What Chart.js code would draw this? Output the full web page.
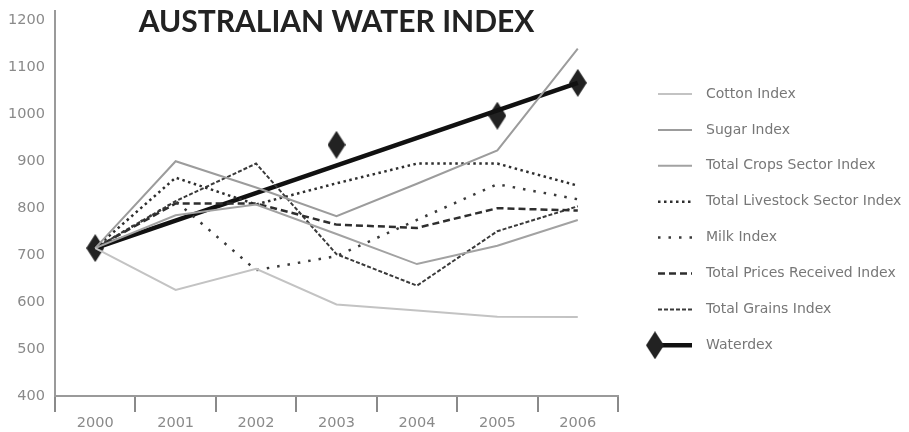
<!DOCTYPE html>
<html>
<head>
<meta charset="utf-8">
<script src="https://cdn.jsdelivr.net/npm/chart.js@4.4.0/dist/chart.umd.min.js"></script>
<style>
    html, body { margin: 0; padding: 0; background: #fff; }
    #wrap { position: relative; width: 909px; height: 432px; }
</style>
</head>
<body>
<div id="wrap"><canvas id="chart" width="909" height="432"></canvas></div>
<script>
// Values
const years = ['2000', '2001', '2002', '2003', '2004', '2005', '2006'];
const cottonIndex = [715, 626, 671, 595, 582, 569, 568];
const sugarIndex = [715, 900, 844, 783, 852, 923, 1140];
const cropsIndex = [715, 785, 808, 745, 681, 720, 775];
const livestockIndex = [715, 865, 808, 853, 895, 895, 848];
const milkIndex = [715, 815, 668, 698, 775, 851, 819];
const pricesIndex = [715, 810, 810, 765, 758, 800, 795];
const grainsIndex = [715, 815, 895, 702, 635, 751, 804];
const waterdexPoints = [715, null, null, 935, null, 997, 1067];
const waterdexTrend = [715, null, null, null, null, null, 1067];
const yTicks = [400, 500, 600, 700, 800, 900, 1000, 1100, 1200];

const FONT = '"DejaVu Sans", sans-serif';
const TITLE_FONT = 'Lato, "Open Sans", sans-serif';

// Tall diamond marker
function makeDiamond(w, h, color) {
    const c = document.createElement('canvas');
    c.width = w;
    c.height = h;
    const g = c.getContext('2d');
    g.fillStyle = color;
    g.beginPath();
    g.moveTo(w / 2, 0);
    g.lineTo(w, h / 2);
    g.lineTo(w / 2, h);
    g.lineTo(0, h / 2);
    g.closePath();
    g.fill();
    return c;
}
const diamond = makeDiamond(18, 28, '#222');

function series(label, data, color, width, dash) {
    return {
        label: label,
        data: data,
        borderColor: color,
        backgroundColor: color,
        borderWidth: width,
        borderDash: dash,
        pointRadius: 0,
        pointHoverRadius: 0,
        tension: 0,
        fill: false
    };
}

const datasets = [
    series('Cotton Index', cottonIndex, '#c3c3c3', 2, []),
    series('Sugar Index', sugarIndex, '#9c9c9c', 2, []),
    series('Total Crops Sector Index', cropsIndex, '#a2a2a2', 2, []),
    series('Total Livestock Sector Index', livestockIndex, '#2e2e2e', 2.5, [2.5, 3.5]),
    series('Milk Index', milkIndex, '#3a3a3a', 2.5, [2.5, 8]),
    series('Total Prices Received Index', pricesIndex, '#2e2e2e', 2.5, [7, 4]),
    series('Total Grains Index', grainsIndex, '#3a3a3a', 2, [4, 2]),
    Object.assign(series('Waterdex', waterdexTrend, '#111', 4.5, []), { spanGaps: true }),
    {
        label: 'Waterdex points',
        data: waterdexPoints,
        showLine: false,
        pointStyle: diamond,
        pointRadius: 10,
        pointHoverRadius: 10
    }
];

// Title and the side legend are drawn by hand
const decorPlugin = {
    id: 'decor',
    afterDraw(chart) {
        const ctx = chart.ctx;
        const area = chart.chartArea;
        ctx.save();

        ctx.fillStyle = '#222';
        ctx.font = 'bold 30px ' + TITLE_FONT;
        ctx.textAlign = 'center';
        ctx.textBaseline = 'middle';
        ctx.fillText('AUSTRALIAN WATER INDEX', (area.left + area.right) / 2, 22);

        const top = 94;
        const step = 35.9;
        for (let i = 0; i < 8; i++) {
            const ds = chart.data.datasets[i];
            const y = top + i * step;
            ctx.strokeStyle = ds.borderColor;
            ctx.lineWidth = ds.borderWidth;
            ctx.setLineDash(ds.borderDash || []);
            ctx.beginPath();
            ctx.moveTo(i === 7 ? 656 : 658, y);
            ctx.lineTo(692, y);
            ctx.stroke();
            if (i === 7) {
                ctx.drawImage(diamond, 655 - 9, y - 14);
            }
            ctx.setLineDash([]);
            ctx.fillStyle = '#777';
            ctx.font = '14px ' + FONT;
            ctx.textAlign = 'left';
            ctx.fillText(ds.label, 706, y);
        }
        ctx.restore();
    }
};

new Chart(document.getElementById('chart'), {
    type: 'line',
    data: { labels: years, datasets: datasets },
    options: {
        responsive: false,
        animation: false,
        events: [],
        layout: { padding: { top: 8.5, right: 291, left: 0, bottom: 0 } },
        plugins: {
            legend: { display: false },
            tooltip: { enabled: false }
        },
        scales: {
            x: {
                offset: true,
                afterFit: scale => { scale.height = 36; },
                grid: {
                    display: true,
                    offset: true,
                    drawOnChartArea: false,
                    drawTicks: true,
                    tickLength: 16,
                    color: '#8a8a8a',
                    lineWidth: 2
                },
                border: { display: true, color: '#9a9a9a', width: 2 },
                ticks: { color: '#8a8a8a', font: { family: FONT, size: 14.5 }, padding: 3, maxRotation: 0 }
            },
            y: {
                min: 400,
                max: 1220,
                afterFit: scale => {
                    scale.width = 55;
                    scale.paddingTop = 0;
                    scale.paddingBottom = 0;
                },
                afterBuildTicks: scale => { scale.ticks = yTicks.map(v => ({ value: v })); },
                grid: { display: true, drawOnChartArea: false, drawTicks: false },
                border: { display: true, color: '#9a9a9a', width: 2 },
                ticks: {
                    color: '#8a8a8a',
                    font: { family: FONT, size: 14.5 },
                    padding: 10,
                    callback: v => String(v)
                }
            }
        }
    },
    plugins: [decorPlugin]
});
</script>
</body>
</html>
